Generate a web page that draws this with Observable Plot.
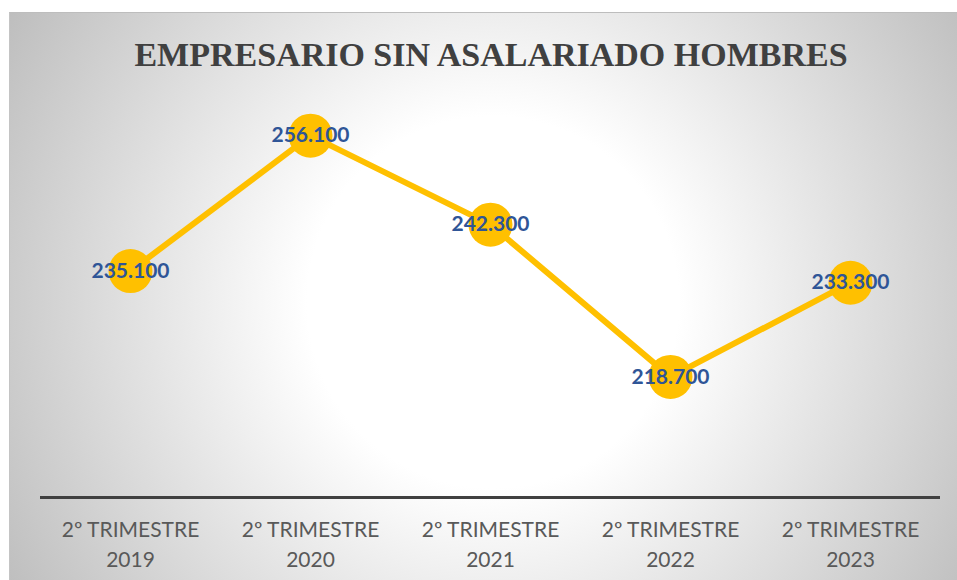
<!DOCTYPE html>
<html>
<head>
<meta charset="utf-8">
<script src="https://cdn.jsdelivr.net/npm/d3@7"></script>
<script src="https://cdn.jsdelivr.net/npm/@observablehq/plot@0.6"></script>
<style>
  html, body { margin: 0; padding: 0; background: #ffffff; width: 957px; height: 580px; overflow: hidden; }
  #frame {
    position: absolute; left: 9px; top: 12px; width: 948px; height: 568px;
    border-top: 1px solid #bdbdbd; border-left: 1px solid #c4c4c4; box-sizing: border-box;
    background: radial-gradient(circle farthest-corner at 51% 51%, #ffffff 0%, #ffffff 33%, #bebebe 100%);
    overflow: hidden;
  }
  #title {
    position: absolute; left: 0; top: 22px; width: 100%; padding-left: 15px; box-sizing: border-box;
    text-align: center; font-family: "Liberation Serif", serif; font-weight: bold; font-size: 34px;
    line-height: 40px; color: #404040; white-space: nowrap;
  }
  #chart { position: absolute; left: -1px; top: 72px; }
</style>
</head>
<body>
<div id="frame">
  <div id="title">EMPRESARIO SIN ASALARIADO HOMBRES</div>
  <div id="chart"></div>
</div>
<script>
const tickLabels = ["2º TRIMESTRE\n2019", "2º TRIMESTRE\n2020", "2º TRIMESTRE\n2021", "2º TRIMESTRE\n2022", "2º TRIMESTRE\n2023"];
const values = [235.1, 256.1, 242.3, 218.7, 233.3];
const valueLabels = ["235.100", "256.100", "242.300", "218.700", "233.300"];
const yDomain = [200, 260];

const data = tickLabels.map((c, i) => ({cat: c, value: values[i], label: valueLabels[i]}));

const chart = Plot.plot({
  width: 948,
  height: 495,
  marginLeft: 31,
  marginRight: 17,
  marginTop: 25,
  marginBottom: 83,
  style: {background: "transparent", fontFamily: "Lato, sans-serif"},
  x: {type: "point", domain: tickLabels, padding: 0.5, axis: null},
  y: {domain: yDomain, axis: null},
  marks: [
    Plot.ruleY([yDomain[0]], {stroke: "#404040", strokeWidth: 3}),
    Plot.line(data, {x: "cat", y: "value", stroke: "#FFC000", strokeWidth: 6, strokeLinejoin: "round"}),
    Plot.dot(data, {x: "cat", y: "value", r: 22, fill: "#FFC000", stroke: "none"}),
    Plot.text(data, {x: "cat", y: "value", text: "label", fill: "#2F5597", fontSize: 21, fontWeight: "bold"}),
    Plot.text(tickLabels, {x: d => d, y: () => yDomain[0], text: d => d, dy: 45, lineHeight: 1.43, fontSize: 21, fill: "#595959"})
  ]
});
document.getElementById("chart").appendChild(chart);
</script>
</body>
</html>
